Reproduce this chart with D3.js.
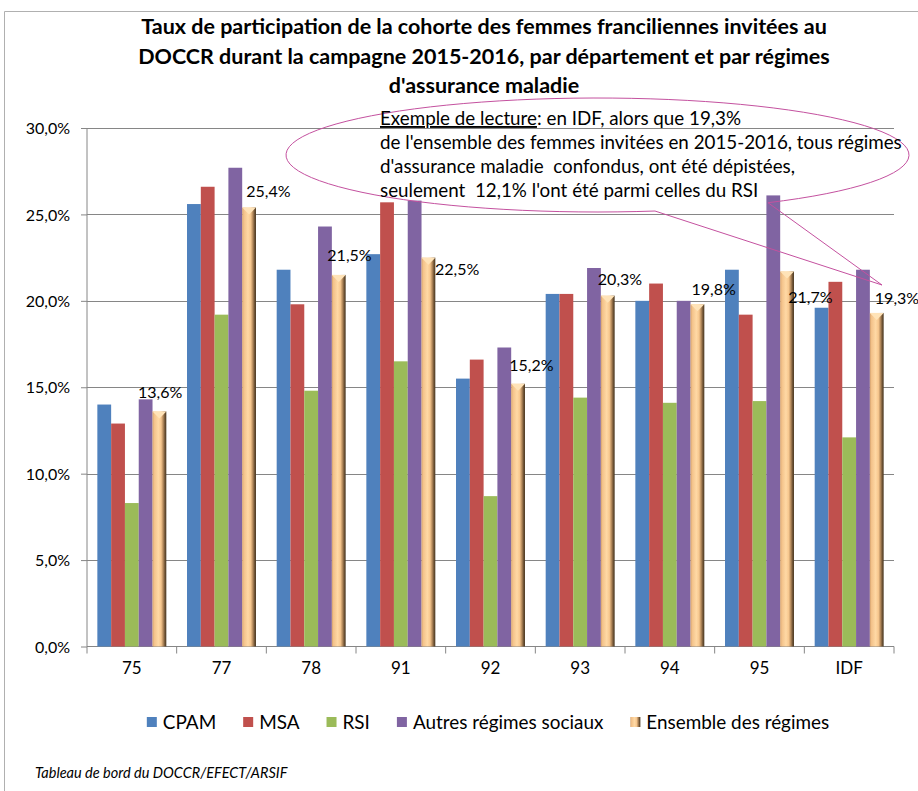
<!DOCTYPE html>
<html>
<head>
<meta charset="utf-8">
<script src="https://cdn.jsdelivr.net/npm/d3@7"></script>
<style>
  body { margin: 0; background: #fff; }
  svg text { font-family: Lato, "Open Sans", sans-serif; fill: #000; }
</style>
</head>
<body>
<div id="chart"></div>
<script>
// DATA ------------------------
const departements = ["75", "77", "78", "91", "92", "93", "94", "95", "IDF"]
const regimes = ["CPAM", "MSA", "RSI", "Autres régimes sociaux", "Ensemble des régimes"]
const cpam     = [14.0, 25.6, 21.8, 22.7, 15.5, 20.4, 20.0, 21.8, 19.6]
const msa      = [12.9, 26.6, 19.8, 25.7, 16.6, 20.4, 21.0, 19.2, 21.1]
const rsi      = [ 8.3, 19.2, 14.8, 16.5,  8.7, 14.4, 14.1, 14.2, 12.1]
const autres   = [14.3, 27.7, 24.3, 25.8, 17.3, 21.9, 20.0, 26.1, 21.8]
const ensemble = [13.6, 25.4, 21.5, 22.5, 15.2, 20.3, 19.8, 21.7, 19.3]
const yTicks = [0, 5, 10, 15, 20, 25, 30]

const titleLines = [
  "Taux de participation de la cohorte des femmes franciliennes invitées au",
  "DOCCR durant la campagne 2015-2016, par département et par régimes",
  "d'assurance maladie"
]
const noteLines = [
  ["Exemple de lecture", ": en IDF, alors que 19,3%"],
  ["", "de l'ensemble des femmes invitées en 2015-2016, tous régimes"],
  ["", "d'assurance maladie  confondus, ont été dépistées,"],
  ["", "seulement  12,1% l'ont été parmi celles du RSI"]
]
const source = "Tableau de bord du DOCCR/EFECT/ARSIF"

// LAYOUT ----------------------
const W = 918, H = 791
const plot = { left: 87, right: 894, top: 128, bottom: 646.5 }
const colors = ["#4F81BD", "#C0504D", "#9BBB59", "#8064A2", "url(#gold)"]
// manual nudges of the "Ensemble" value labels, as placed in the original
const labelNudge = [[-14.5, -19], [4, -16], [-4.5, -20], [13.5, 12], [-2, -18],
                    [-3, -16], [1, -15], [8, 26], [5, -15]]

const series = [cpam, msa, rsi, autres, ensemble]
const fmt = v => d3.format(".1f")(v).replace(".", ",") + "%"

const svg = d3.select("#chart").append("svg")
  .attr("width", W).attr("height", H)

const defs = svg.append("defs")
const gold = defs.append("linearGradient").attr("id", "gold")
  .attr("x1", 0).attr("x2", 1).attr("y1", 0).attr("y2", 0)
;[[0, "#d3a06c"], [0.12, "#f3c28a"], [0.42, "#ffd9a5"], [0.62, "#f7c78e"],
  [0.78, "#b08659"], [0.9, "#6d5234"], [1, "#4a3822"]]
  .forEach(([o, c]) => gold.append("stop").attr("offset", o).attr("stop-color", c))

// frame
svg.append("path")
  .attr("d", `M4.5,${H} V11.5 H${W}`)
  .attr("fill", "none").attr("stroke", "#b0b0b0")

// title
svg.append("g").selectAll("text").data(titleLines).join("text")
  .attr("x", 484).attr("y", (d, i) => 34 + i * 29.5)
  .attr("text-anchor", "middle")
  .style("font-size", "21.5px").style("font-weight", "bold")
  .text(d => d)

// SCALES ----------------------
const x = d3.scaleBand().domain(departements).range([plot.left, plot.right])
const xs = d3.scaleBand().domain(regimes).range([0, x.bandwidth()])
  .paddingInner(0).paddingOuter(0.75)
const y = d3.scaleLinear().domain([0, 30]).range([plot.bottom, plot.top])

// grid + axes
const gY = svg.append("g").attr("transform", `translate(${plot.left},0)`)
  .call(d3.axisLeft(y).tickValues(yTicks).tickSize(6).tickFormat(d => fmt(d)))
gY.select(".domain").attr("stroke", "#868686").attr("d", `M0,${plot.bottom}V${plot.top}`)
gY.selectAll(".tick line").attr("stroke", "#868686")
gY.selectAll(".tick text").attr("x", -17).attr("dy", "0.35em")
  .style("font-size", "16px").style("font-family", "Lato")

svg.append("g").selectAll("line").data(yTicks.filter(d => d > 0)).join("line")
  .attr("x1", plot.left).attr("x2", plot.right)
  .attr("y1", d => Math.round(y(d)) + 0.5).attr("y2", d => Math.round(y(d)) + 0.5)
  .attr("stroke", "#868686")

const gX = svg.append("g").attr("transform", `translate(0,${plot.bottom})`)
  .call(d3.axisBottom(x).tickSize(0))
gX.select(".domain").attr("stroke", "#868686").attr("d", `M${plot.left},0H${plot.right}`)
gX.selectAll(".tick text").attr("y", 22).attr("dy", "0.35em")
  .style("font-size", "17px").style("font-family", "Lato")
gX.selectAll("line.sep").data(departements.concat(["end"])).join("line")
  .attr("class", "sep")
  .attr("x1", (d, i) => plot.left + i * x.step()).attr("x2", (d, i) => plot.left + i * x.step())
  .attr("y1", 0).attr("y2", 7).attr("stroke", "#868686")

// BARS ------------------------
const bars = svg.append("g")
series.forEach((vals, s) => {
  const g = bars.append("g")
  g.selectAll("rect").data(vals).join("rect")
    .attr("x", (d, i) => x(departements[i]) + xs(regimes[s]))
    .attr("y", d => y(d))
    .attr("width", xs.bandwidth())
    .attr("height", d => plot.bottom - y(d))
    .attr("fill", colors[s])
  if (s === 4) {
    // bevelled top of the cylinder-like bars
    g.selectAll("path").data(vals).join("path")
      .attr("d", (d, i) => {
        const x0 = x(departements[i]) + xs(regimes[s]), w = xs.bandwidth(), t = y(d)
        return `M${x0},${t}H${x0 + w}L${x0 + w / 2},${t + 7}Z`
      })
      .attr("fill", "#ffe3b8")
    g.selectAll("text").data(vals).join("text")
      .attr("x", (d, i) => x(departements[i]) + xs(regimes[s]) + labelNudge[i][0])
      .attr("y", (d, i) => y(d) + labelNudge[i][1])
      .attr("dy", "0.35em")
      .style("font-size", "16px")
      .text(d => fmt(d))
  }
})

// LEGEND ----------------------
const legend = svg.append("g")
let lx = 0
regimes.forEach((r, i) => {
  const item = legend.append("g").attr("transform", `translate(${lx},0)`)
  item.append("rect").attr("x", 0).attr("y", -5).attr("width", 10).attr("height", 10)
    .attr("fill", colors[i])
  const t = item.append("text").attr("x", 16).attr("dy", "0.35em")
    .style("font-size", "18.9px").text(r)
  lx += 16 + t.node().getComputedTextLength() + 27
})
lx -= 27
legend.attr("transform", `translate(${488 - lx / 2},722)`)

// source
svg.append("text").attr("x", 35).attr("y", 778)
  .style("font-size", "14.5px").style("font-style", "italic")
  .text(source)

// CALLOUT ---------------------
const ell = { cx: 597.5, cy: 155, rx: 311.5, ry: 57 }
const tip = [882, 285]
const onEll = px => [px, ell.cy + ell.ry * Math.sqrt(1 - ((px - ell.cx) / ell.rx) ** 2)]
const a = onEll(655), b = onEll(768)
svg.append("path")
  .attr("d", `M${a}A${ell.rx},${ell.ry} 0 1 1 ${b}L${tip}Z`)
  .attr("fill", "none").attr("stroke", "#c4519f").attr("stroke-width", 1)

const note = svg.append("g").style("font-size", "18.8px")
noteLines.forEach(([u, rest], i) => {
  const t = note.append("text").attr("x", 380).attr("y", 125 + i * 24)
    .attr("xml:space", "preserve").style("white-space", "pre")
  if (u) t.append("tspan").attr("text-decoration", "underline").text(u)
  t.append("tspan").text(rest)
})
</script>
</body>
</html>
